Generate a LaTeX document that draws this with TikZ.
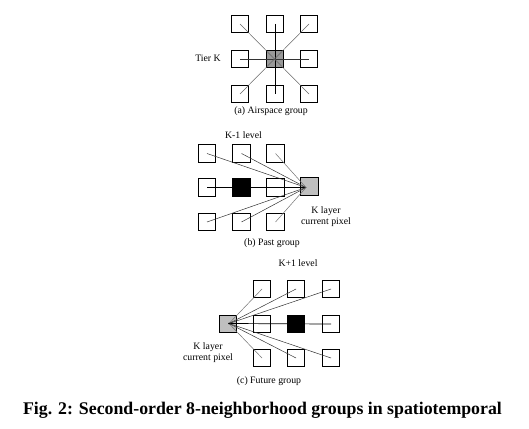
\documentclass[tikz,border=0pt]{standalone}
\usepackage{fontspec}
\setmainfont{Liberation Serif}
\usetikzlibrary{positioning}

\begin{document}
\begin{tikzpicture}[x=1pt, y=-1pt,
  cell/.style={draw, fill=white, minimum size=17.5pt, inner sep=0pt, line width=0.6pt},
  cur/.style={cell, fill=black!25},
  blk/.style={cell, fill=black},
  lbl/.style={font=\fontsize{9.8}{11}\selectfont, align=center, inner sep=0pt},
  ray/.style={line width=0.5pt, black!80},
  axis/.style={line width=0.9pt}]
  \useasboundingbox (0,0) rectangle (529,428);

  % (a) airspace group
  \node[cell] (a11) at (240,24) {};
  \node[cell] (a12) at (275,24) {};
  \node[cell] (a13) at (309,24) {};
  \node[cell] (a21) at (240,59) {};
  \node[cur, fill=black!40] (a22) at (275,59) {};
  \node[cell] (a23) at (309,59) {};
  \node[cell] (a31) at (240,94) {};
  \node[cell] (a32) at (275,94) {};
  \node[cell] (a33) at (309,94) {};
  \draw[axis] (a12.center) -- (a32.center);
  \draw[ray, line width=0.7pt] (a21.center) -- (a23.center);
  \draw[ray, black!60] (a11.center) -- (a33.center);
  \draw[ray, black!60] (a13.center) -- (a31.center);
  \node[lbl] (tier) at (208,58) {Tier K};
  \node[lbl] (capa) at (271,111) {(a) Airspace group};

  % (b) past group
  \node[cell] (b11) at (207,153.5) {};
  \node[cell] (b12) at (241.5,153.5) {};
  \node[cell] (b13) at (275.5,153.5) {};
  \node[cell] (b21) at (207,187.5) {};
  \node[blk]  (b22) at (241.5,187.5) {};
  \node[cell] (b23) at (275.5,187.5) {};
  \node[cur]  (bk)  at (309.5,186.5) {};
  \node[cell] (b31) at (207,222) {};
  \node[cell] (b32) at (241.5,222) {};
  \node[cell] (b33) at (275.5,222) {};
  \coordinate (bp) at (306,187.5);
  \draw[axis] (b21.center) -- (bp);
  \draw[ray] (b11.center) -- (bp);
  \draw[ray] (b12.center) -- (bp);
  \draw[ray, black!55] (b13.center) -- (bp);
  \draw[ray] (b31.center) -- (bp);
  \draw[ray] (b32.center) -- (bp);
  \draw[ray, black!55] (b33.center) -- (bp);
  \node[lbl] (lvb) at (243.5,135) {K-1 level};
  \node[lbl] (curb) at (326,217) {K layer\\current pixel};
  \node[lbl] (capb) at (272,243) {(b) Past group};

  % (c) future group
  \node[cur]  (ck)  at (228,324) {};
  \node[cell] (c11) at (262,289) {};
  \node[cell] (c12) at (296,289) {};
  \node[cell] (c13) at (331,289) {};
  \node[cell] (c21) at (262,324) {};
  \node[blk]  (c22) at (296,324) {};
  \node[cell] (c23) at (331,324) {};
  \node[cell] (c31) at (262,358) {};
  \node[cell] (c32) at (296,358) {};
  \node[cell] (c33) at (331,358) {};
  \coordinate (cp) at (229,323.5);
  \draw[axis, line width=0.7pt] (cp) -- (c23.center);
  \draw[ray, black!55] (cp) -- (c11.center);
  \draw[ray] (cp) -- (c12.center);
  \draw[ray] (cp) -- (c13.center);
  \draw[ray, black!55] (cp) -- (c31.center);
  \draw[ray] (cp) -- (c32.center);
  \draw[ray] (cp) -- (c33.center);
  \fill (cp) circle (0.8pt);
  \node[lbl] (lvc) at (298,263) {K+1 level};
  \node[lbl] (curc) at (208,353) {K layer\\current pixel};
  \node[lbl] (capc) at (269,381) {(c) Future group};

  % caption
  \node[font=\bfseries\fontsize{17.8}{20}\selectfont, inner sep=0pt] (fig) at (262.5,410)
    {Fig. 2: Second-order 8-neighborhood groups in spatiotemporal};
\end{tikzpicture}
\end{document}
